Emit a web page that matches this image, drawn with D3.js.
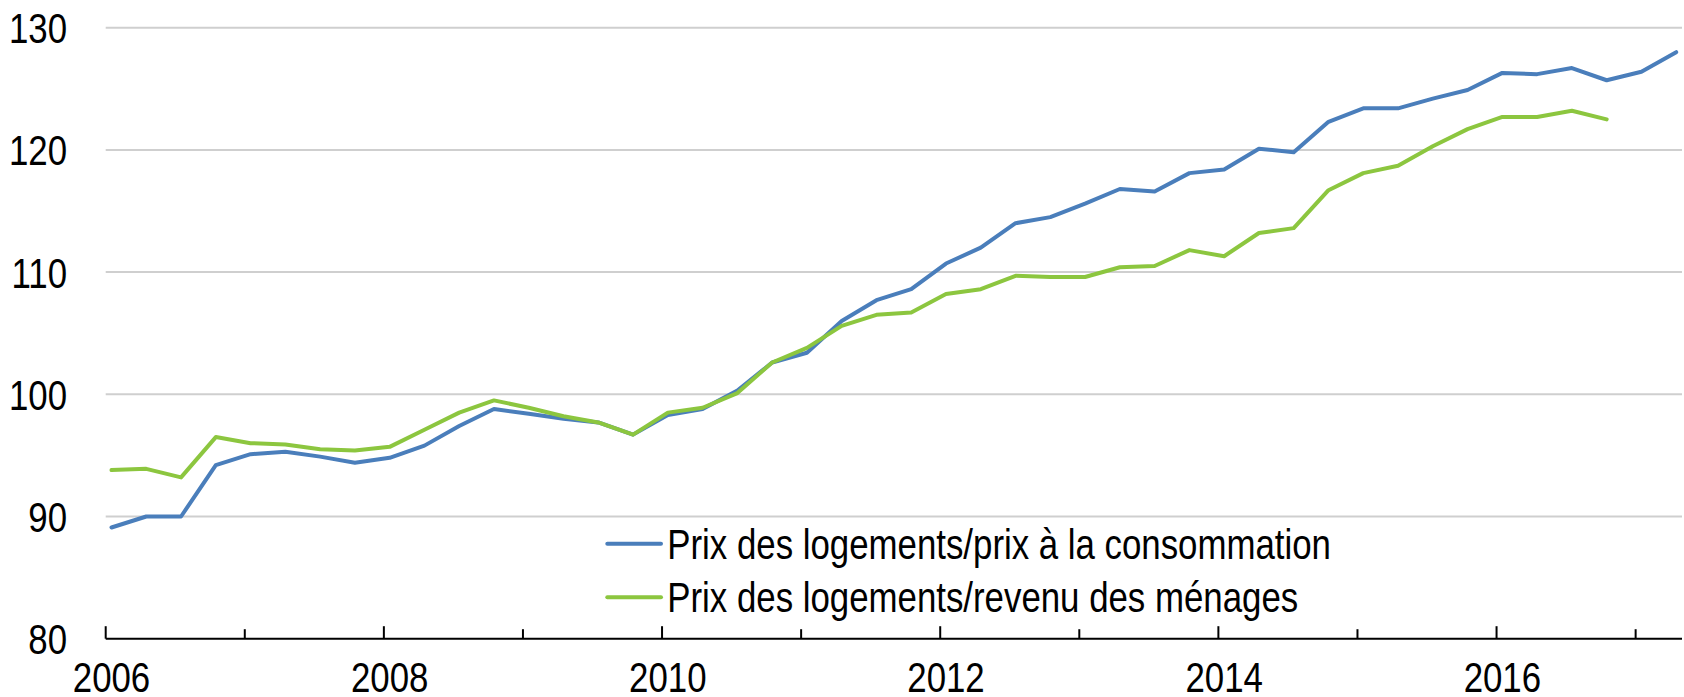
<!DOCTYPE html>
<html>
<head>
<meta charset="utf-8">
<script src="https://cdn.jsdelivr.net/npm/d3@7"></script>
<style>
  body { margin: 0; background: #fff; }
  svg text { font-family: 'Liberation Sans Narrow', 'Arial Narrow', 'Liberation Sans', Arial, sans-serif; fill: #000; font-size: 43px; }
</style>
</head>
<body>
<div id="chart"></div>
<script>
// quarters from 2006 T1 to 2017 T2
const startYear = 2006;

const seriesNames = [
  'Prix des logements/prix à la consommation',
  'Prix des logements/revenu des ménages',
];

const seriesColors = ['#4a7ebb', '#8cc63f'];

const housingToCpi = [
  89.1, 90.0, 90.0, 94.2, 95.1, 95.3, 94.9, 94.4, 94.8, 95.8,
  97.4, 98.8, 98.4, 98.0, 97.7, 96.7, 98.3, 98.8, 100.3, 102.6,
  103.4, 106.0, 107.7, 108.6, 110.7, 112.0, 114.0, 114.5, 115.6, 116.8,
  116.6, 118.1, 118.4, 120.1, 119.8, 122.3, 123.4, 123.4, 124.2, 124.9,
  126.3, 126.2, 126.7, 125.7, 126.4, 128.0,
];

const housingToIncome = [
  93.8, 93.9, 93.2, 96.5, 96.0, 95.9, 95.5, 95.4, 95.7, 97.1,
  98.5, 99.5, 98.9, 98.2, 97.7, 96.7, 98.5, 98.9, 100.1, 102.6,
  103.8, 105.6, 106.5, 106.7, 108.2, 108.6, 109.7, 109.6, 109.6, 110.4,
  110.5, 111.8, 111.3, 113.2, 113.6, 116.7, 118.1, 118.7, 120.3, 121.7,
  122.7, 122.7, 123.2, 122.5,
];

const yTicks = [80, 90, 100, 110, 120, 130];
const xTickYears = d3.range(2006, 2018);
const xLabelYears = [2006, 2008, 2010, 2012, 2014, 2016];

const width = 1684;
const height = 697;

// no narrow font installed: squeeze the regular one
const narrow = 0.81;
const place = (x, y) => `translate(${x},${y}) scale(${narrow},1)`;

// each quarter sits at the middle of its first month
const quarterPos = (i) => startYear + i / 4 + 1 / 24;

const svg = d3.select('#chart')
  .append('svg')
  .attr('width', width)
  .attr('height', height);

const xScale = d3.scaleLinear()
  .domain([2006, 2017 + 1 / 3])
  .range([105.7, 1682]);

const yScale = d3.scaleLinear()
  .domain([80, 130])
  .range([638.7, 27.7]);

// gridlines
svg.append('g')
  .selectAll('line')
  .data(yTicks.filter((d) => d > 80))
  .join('line')
  .attr('x1', xScale.range()[0])
  .attr('x2', xScale.range()[1])
  .attr('y1', (d) => yScale(d))
  .attr('y2', (d) => yScale(d))
  .attr('stroke', '#cfcfcf')
  .attr('stroke-width', 2);

// y labels
svg.append('g')
  .selectAll('text')
  .data(yTicks)
  .join('text')
  .attr('transform', (d) => place(67, yScale(d) + 15.5))
  .attr('text-anchor', 'end')
  .text((d) => d);

// x axis
const xAxis = svg.append('g');
xAxis.append('line')
  .attr('x1', xScale.range()[0])
  .attr('x2', xScale.range()[1])
  .attr('y1', yScale(80))
  .attr('y2', yScale(80))
  .attr('stroke', '#000')
  .attr('stroke-width', 2);

xAxis.selectAll('.tick')
  .data(xTickYears)
  .join('line')
  .attr('class', 'tick')
  .attr('x1', (d) => xScale(d))
  .attr('x2', (d) => xScale(d))
  .attr('y1', yScale(80))
  .attr('y2', (d) => yScale(80) - (d % 2 === 0 ? 12.5 : 9.5))
  .attr('stroke', '#000')
  .attr('stroke-width', 2);

xAxis.selectAll('.label')
  .data(xLabelYears)
  .join('text')
  .attr('class', 'label')
  .attr('transform', (d) => place(xScale(d + 1 / 24), 692))
  .attr('text-anchor', 'middle')
  .text((d) => d);

// lines
const line = d3.line()
  .x((d, i) => xScale(quarterPos(i)))
  .y((d) => yScale(d));

[housingToCpi, housingToIncome].forEach((values, k) => {
  svg.append('path')
    .datum(values)
    .attr('fill', 'none')
    .attr('stroke', seriesColors[k])
    .attr('stroke-width', 4)
    .attr('stroke-linejoin', 'round')
    .attr('stroke-linecap', 'round')
    .attr('d', line);
});

// legend
const legend = svg.append('g');
seriesNames.forEach((name, k) => {
  const y = 543.7 + k * 53.6;
  legend.append('line')
    .attr('x1', 607.3)
    .attr('x2', 661)
    .attr('y1', y)
    .attr('y2', y)
    .attr('stroke', seriesColors[k])
    .attr('stroke-width', 4)
    .attr('stroke-linecap', 'round');
  legend.append('text')
    .attr('transform', place(667.3, y + 15))
    .text(name);
});
</script>
</body>
</html>
